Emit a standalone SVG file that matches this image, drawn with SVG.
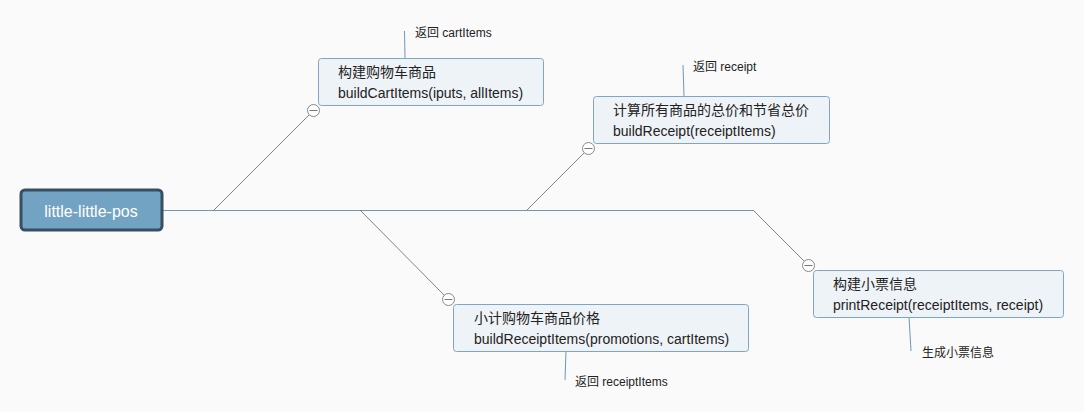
<svg xmlns="http://www.w3.org/2000/svg" width="1084" height="412" viewBox="0 0 1084 412">
<style>
.bg{fill:#fafafa}
.box{fill:#eef3f7;stroke:#7fa5c4;stroke-width:1}
.t{font-family:"Liberation Sans","Noto Sans CJK SC",sans-serif;font-size:14px;fill:#222}
.lbl{font-family:"Liberation Sans","Noto Sans CJK SC",sans-serif;font-size:12px;fill:#222}
.ln{stroke:#6d98b8;stroke-width:1;fill:none}
.br{stroke:#666;stroke-width:0.8;fill:none}
.col circle{fill:#fff;stroke:#888;stroke-width:1}
.col line{stroke:#777;stroke-width:1}
</style>
<rect class="bg" width="1084" height="412"/>
<g id="connectors">
<line class="ln" x1="162" y1="210.5" x2="753" y2="210.5"/>
<line class="br" x1="214" y1="210" x2="309" y2="115"/>
<line class="br" x1="527" y1="210" x2="584" y2="153"/>
<line class="br" x1="360" y1="210" x2="444" y2="295"/>
<line class="br" x1="753" y1="210" x2="804" y2="261"/>
<line class="ln" x1="405" y1="58" x2="404.5" y2="31"/>
<line class="ln" x1="684" y1="96" x2="683" y2="65"/>
<line class="ln" x1="566" y1="351" x2="565" y2="380"/>
<line class="ln" x1="909" y1="317" x2="911" y2="351"/>
</g>
<g id="root">
<rect x="21" y="190" width="141" height="40" rx="4" fill="#73a3c3" stroke="#374f63" stroke-width="3"/>
<text x="91" y="216.5" text-anchor="middle" font-family="Liberation Sans, sans-serif" font-size="16" fill="#fff">little-little-pos</text>
</g>
<g id="n1">
<rect class="box" x="318.5" y="58.5" width="225" height="47" rx="3"/>
<text class="t" x="338" y="77">构建购物车商品</text>
<text class="t" x="338" y="98">buildCartItems(iputs, allItems)</text>
<g class="col"><circle cx="313.5" cy="110.5" r="6"/><line x1="309.5" y1="110.5" x2="317.5" y2="110.5"/></g>
<text class="lbl" x="415" y="37">返回 cartItems</text>
</g>
<g id="n2">
<rect class="box" x="593.5" y="96.5" width="236" height="47" rx="3"/>
<text class="t" x="613" y="115">计算所有商品的总价和节省总价</text>
<text class="t" x="613" y="136">buildReceipt(receiptItems)</text>
<g class="col"><circle cx="588.5" cy="148.5" r="6"/><line x1="584.5" y1="148.5" x2="592.5" y2="148.5"/></g>
<text class="lbl" x="693" y="71">返回 receipt</text>
</g>
<g id="n3">
<rect class="box" x="453.5" y="304.5" width="295" height="47" rx="3"/>
<text class="t" x="474" y="323">小计购物车商品价格</text>
<text class="t" x="474" y="344">buildReceiptItems(promotions, cartItems)</text>
<g class="col"><circle cx="448.5" cy="299.5" r="6"/><line x1="444.5" y1="299.5" x2="452.5" y2="299.5"/></g>
<text class="lbl" x="575" y="386">返回 receiptItems</text>
</g>
<g id="n4">
<rect class="box" x="813.5" y="270.5" width="250" height="47" rx="3"/>
<text class="t" x="833" y="289">构建小票信息</text>
<text class="t" x="833" y="310">printReceipt(receiptItems, receipt)</text>
<g class="col"><circle cx="808.5" cy="265.5" r="6"/><line x1="804.5" y1="265.5" x2="812.5" y2="265.5"/></g>
<text class="lbl" x="922" y="357">生成小票信息</text>
</g>
</svg>
